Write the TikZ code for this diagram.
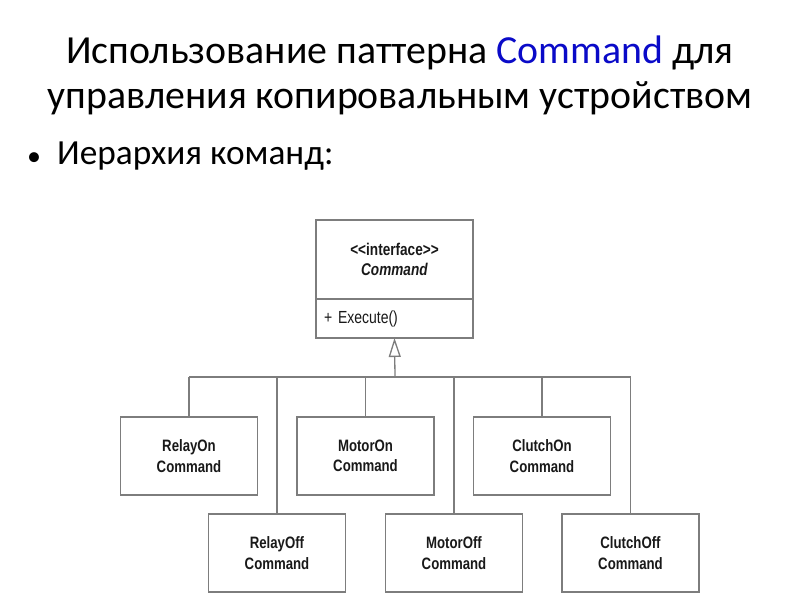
\documentclass[tikz,border=0pt]{standalone}
\usepackage{fontspec}
\setmainfont{Carlito}
\newfontfamily\umlfont[FakeStretch=0.8]{Liberation Sans}
\usepackage{xcolor}
\usetikzlibrary{arrows.meta,positioning}
\definecolor{cmdblue}{RGB}{10,10,200}
\definecolor{linegray}{RGB}{125,125,125}
\tikzset{
  clase/.style={draw=linegray,line width=1.3pt,rectangle,minimum width=137pt,minimum height=78pt,align=center,inner sep=0pt,outer sep=0pt,
    font=\umlfont\bfseries\fontsize{16.5}{20.5}\selectfont,text=black!90},
  rama/.style={draw=linegray,line width=1.3pt},
  herencia/.style={rama,-{Triangle[open,length=19pt,width=12pt]}}
}

\begin{document}
\begin{tikzpicture}[x=1pt,y=-1pt]
\useasboundingbox (0,0) rectangle (800,600);
% titulo y punto
\node[anchor=base,align=center,font=\fontsize{39.8}{45}\selectfont] (titulo) at (400,108)
  {Использование паттерна \textcolor{cmdblue}{Command} для\\управления копировальным устройством};
\node[anchor=base west,inner sep=0pt,font=\fontsize{28}{30}\selectfont] (punto) at (27,165) {•};
\node[anchor=base west,inner sep=0pt,font=\fontsize{35.3}{40}\selectfont] (jerarquia) at (57,164) {Иерархия команд:};
% interfaz
\node[clase,minimum width=157pt,minimum height=79pt,font=\umlfont\fontsize{17}{20.5}\selectfont] (cmd) at (394.5,259.5)
  {\textbf{<<interface>>}\\\textbf{\textit{Command}}};
\node[clase,minimum width=157pt,minimum height=39pt,anchor=north,text width=141pt,align=left,font=\umlfont\fontsize{17.5}{20}\selectfont] (ops) at (cmd.south) {+ Execute()};
% comandos
\node[clase] (relayon) at (189,456) {RelayOn\\Command};
\node[clase] (motoron) at (365.5,456) {MotorOn\\Command};
\node[clase] (clutchon) at (542,456) {ClutchOn\\Command};
\node[clase] (relayoff) at (277,553) {RelayOff\\Command};
\node[clase] (motoroff) at (454,553) {MotorOff\\Command};
\node[clase] (clutchoff) at (630.5,553) {ClutchOff\\Command};
% lineas
\coordinate (bus) at (395,377);
\draw[herencia] (bus) -- (ops.south);
\draw[rama] (relayon.north |- bus) -- (clutchoff.north |- bus);
\foreach \c in {relayon,motoron,clutchon,relayoff,motoroff,clutchoff}
  \draw[rama] (\c.north) -- (\c.north |- bus);
\end{tikzpicture}
\end{document}
